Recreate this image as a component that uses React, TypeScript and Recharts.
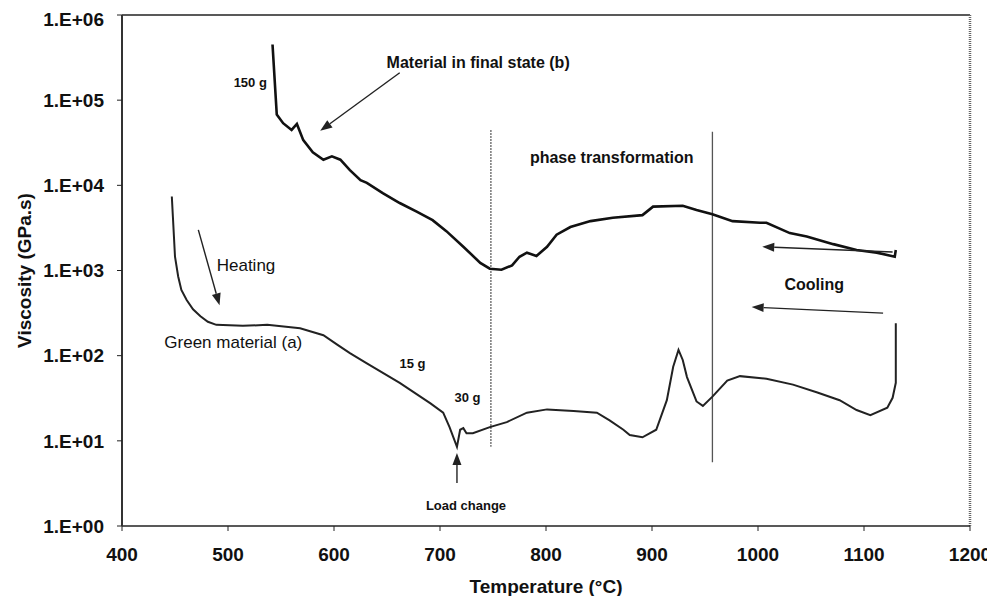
import React from 'react';
import { LineChart, Line, XAxis, YAxis, ReferenceLine, ReferenceDot } from 'recharts';

const tempTicks = [400, 500, 600, 700, 800, 900, 1000, 1100, 1200];
const viscTicks = [1, 10, 100, 1000, 10000, 100000, 1000000];

// curve (b): material in final state
const finalTemp = [542, 546, 552, 560, 565, 571, 580, 590, 598, 606, 615, 625, 631, 646, 662, 678, 693, 706, 722, 738, 747, 758, 768, 775, 782, 791, 801, 810, 823, 842, 863, 891, 901, 929, 942, 957, 976, 1002, 1008, 1030, 1046, 1071, 1093, 1112, 1129, 1130];
const finalVisc = [450000, 67600, 53700, 44700, 52500, 33900, 24500, 20000, 21900, 20000, 15100, 11500, 10700, 8100, 6200, 4900, 3900, 2900, 1900, 1230, 1050, 1020, 1150, 1450, 1620, 1480, 1900, 2630, 3240, 3800, 4170, 4470, 5620, 5750, 5130, 4570, 3800, 3630, 3630, 2750, 2510, 2040, 1740, 1620, 1450, 1740];

// curve (a): green material
const greenTemp = [447, 448, 450, 453, 456, 461, 467, 474, 481, 489, 514, 537, 568, 590, 603, 615, 631, 662, 691, 703, 709, 716, 719, 722, 725, 731, 747, 763, 782, 801, 826, 848, 860, 873, 879, 891, 904, 914, 920, 925, 929, 933, 942, 948, 957, 971, 983, 1008, 1033, 1056, 1077, 1093, 1106, 1122, 1127, 1130, 1130, 1130];
const greenVisc = [7400, 4300, 1450, 850, 590, 450, 350, 290, 250, 230, 224, 230, 210, 174, 135, 107, 81, 48, 27.5, 21.4, 14.5, 8.5, 13.5, 14.1, 12.3, 12.3, 14.5, 16.6, 21.4, 23.4, 22.4, 21.4, 17.4, 13.5, 11.7, 11, 13.5, 30, 74, 117, 89, 56, 29, 25.7, 33, 51, 57.5, 53.7, 45.7, 37, 30, 23, 20, 24.5, 32, 48, 126, 240];

const finalData = finalTemp.map((t, i) => ({ t, v: finalVisc[i] }));
const greenData = greenTemp.map((t, i) => ({ t, v: greenVisc[i] }));

const font = 'Arial, "Liberation Sans", Helvetica, sans-serif';

const fmtVisc = (v: number) => '1.E+' + String(Math.round(Math.log10(v))).padStart(2, '0');

const Arrow = (p: any) => {
  const { x1, y1, x2, y2 } = p;
  const a = Math.atan2(y2 - y1, x2 - x1);
  const len = 12;
  const w = 4.5;
  const bx = x2 - len * Math.cos(a);
  const by = y2 - len * Math.sin(a);
  const nx = -Math.sin(a) * w;
  const ny = Math.cos(a) * w;
  return (
    <g>
      <line x1={x1} y1={y1} x2={bx} y2={by} stroke="#222" strokeWidth={1.4} />
      <polygon points={`${x2},${y2} ${bx + nx},${by + ny} ${bx - nx},${by - ny}`} fill="#222" />
    </g>
  );
};

const note = (text: string, size: number, weight: number | string = 'bold') => (p: any) => (
  <text x={p.cx} y={p.cy} textAnchor="middle" dominantBaseline="central" fontFamily={font} fontSize={size} fontWeight={weight} fill="#111">
    {text}
  </text>
);

export default function App() {
  return (
    <div style={{ width: 987, height: 588, background: '#fff' }}>
      <LineChart width={987} height={588} margin={{ top: 7, right: 25, left: 14, bottom: 0 }}>
        <XAxis
          dataKey="t"
          type="number"
          domain={[400, 1200]}
          ticks={tempTicks}
          height={70}
          tickSize={5}
          tickMargin={17}
          axisLine={{ stroke: '#222', strokeWidth: 1.5 }}
          tickLine={{ stroke: '#222' }}
          tick={{ fontSize: 19, fontWeight: 'bold', fill: '#111', fontFamily: font }}
          label={{ value: 'Temperature (°C)', position: 'insideBottom', offset: 3, fontSize: 19, fontWeight: 'bold', fill: '#111', fontFamily: font }}
        />
        <YAxis
          type="number"
          scale="log"
          domain={[1, 1000000]}
          ticks={viscTicks}
          allowDataOverflow
          width={100}
          tickSize={5}
          tickMargin={13}
          tickFormatter={fmtVisc}
          axisLine={{ stroke: '#333', strokeWidth: 2 }}
          tickLine={{ stroke: '#222' }}
          tick={{ fontSize: 19, fontWeight: 'bold', fill: '#111', fontFamily: font }}
          label={{ value: 'Viscosity (GPa.s)', angle: -90, position: 'insideLeft', offset: 2, style: { textAnchor: 'middle' }, fontSize: 19, fontWeight: 'bold', fill: '#111', fontFamily: font }}
        />
        <ReferenceLine y={1000000} stroke="#222" strokeWidth={1.5} />
        <ReferenceLine x={1200} stroke="#666" strokeWidth={2.5} strokeDasharray="1 1" />
        <ReferenceLine segment={[{ x: 748, y: 44700 }, { x: 748, y: 8.5 }]} stroke="#777" strokeWidth={1.5} strokeDasharray="2 1" />
        <ReferenceLine segment={[{ x: 957, y: 42700 }, { x: 957, y: 5.6 }]} stroke="#555" strokeWidth={1.3} />
        <Line data={finalData} dataKey="v" type="linear" stroke="#111" strokeWidth={2.6} dot={false} isAnimationActive={false} />
        <Line data={greenData} dataKey="v" type="linear" stroke="#222" strokeWidth={2} dot={false} isAnimationActive={false} />
        <ReferenceLine segment={[{ x: 662, y: 210000 }, { x: 587, y: 43600 }]} shape={Arrow} />
        <ReferenceLine segment={[{ x: 472, y: 3000 }, { x: 492, y: 390 }]} shape={Arrow} />
        <ReferenceLine segment={[{ x: 716, y: 3.2 }, { x: 716, y: 7.2 }]} shape={Arrow} />
        <ReferenceLine segment={[{ x: 1127, y: 1650 }, { x: 1004, y: 1900 }]} shape={Arrow} />
        <ReferenceLine segment={[{ x: 1118, y: 316 }, { x: 994, y: 372 }]} shape={Arrow} />
        <ReferenceDot x={736} y={280000} r={0} shape={note('Material in final state (b)', 16)} />
        <ReferenceDot x={521} y={160000} r={0} shape={note('150 g', 13)} />
        <ReferenceDot x={862} y={21000} r={0} shape={note('phase transformation', 16)} />
        <ReferenceDot x={517} y={1130} r={0} shape={note('Heating', 17, 'normal')} />
        <ReferenceDot x={505} y={141} r={0} shape={note('Green material (a)', 17, 'normal')} />
        <ReferenceDot x={674} y={82} r={0} shape={note('15 g', 13)} />
        <ReferenceDot x={726} y={32.6} r={0} shape={note('30 g', 13)} />
        <ReferenceDot x={724.5} y={1.72} r={0} shape={note('Load change', 13)} />
        <ReferenceDot x={1053} y={690} r={0} shape={note('Cooling', 16)} />
      </LineChart>
    </div>
  );
}
